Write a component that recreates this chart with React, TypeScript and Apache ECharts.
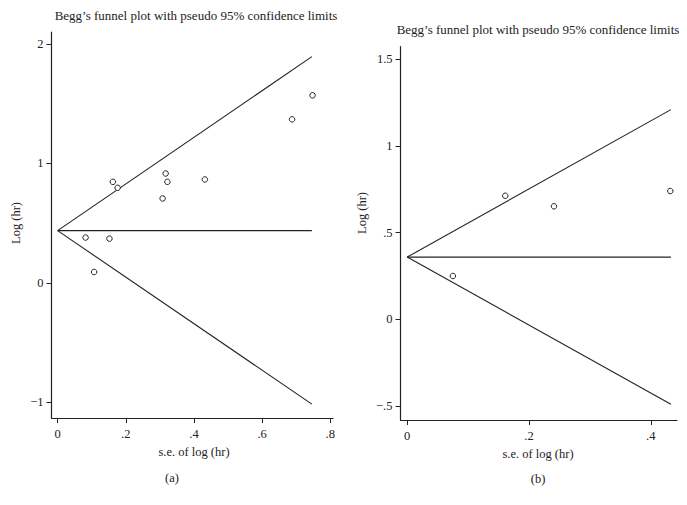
import React, { useEffect, useRef } from "react";
import * as echarts from "echarts";

// Panel (a)
const aSe = [0.082, 0.152, 0.107, 0.162, 0.176, 0.317, 0.322, 0.308, 0.432, 0.688, 0.748];
const aLogHr = [0.38, 0.371, 0.092, 0.846, 0.796, 0.916, 0.846, 0.707, 0.866, 1.369, 1.57];
const aPooled = 0.438;
const aLimitSe = 0.746;
const aUpperEnd = 1.894;
const aLowerEnd = -1.014;
const aXTicks = [0, 0.2, 0.4, 0.6, 0.8];
const aYTicks = [-1, 0, 1, 2];

// Panel (b)
const bSe = [0.075, 0.161, 0.241, 0.432];
const bLogHr = [0.25, 0.713, 0.652, 0.74];
const bPooled = 0.359;
const bLimitSe = 0.433;
const bUpperEnd = 1.21;
const bLowerEnd = -0.49;
const bXTicks = [0, 0.2, 0.4];
const bYTicks = [-0.5, 0, 0.5, 1, 1.5];

const titleText = "Begg\u2019s funnel plot with pseudo 95% confidence limits";
const xName = "s.e. of log (hr)";
const yName = "Log (hr)";

const FONT = "Liberation Serif";
const INK = "#222";

const fmt = (v: number) => {
  if (v === 0) return "0";
  const r = Math.round(v * 1000) / 1000;
  let s = String(Math.abs(r));
  if (s.startsWith("0.")) s = s.slice(1);
  return (r < 0 ? "\u2212" : "") + s;
};

function axisCommon(ticks: number[], margin: number) {
  return {
    axisLine: { show: true, onZero: false, lineStyle: { color: INK, width: 1.2 } },
    axisTick: { show: true, length: 5, customValues: ticks, lineStyle: { color: INK, width: 1 } },
    axisLabel: {
      show: true,
      customValues: ticks,
      formatter: (v: number) => fmt(v),
      color: INK,
      fontFamily: FONT,
      fontSize: 12.5,
      margin,
      showMinLabel: true,
      showMaxLabel: true,
    },
    splitLine: { show: false },
  };
}

export default function App() {
  const ref = useRef<HTMLDivElement>(null);
  useEffect(() => {
    if (!ref.current) return;
    const chart = echarts.init(ref.current, undefined, { renderer: "svg" });
    const lineStyle = { color: INK, width: 1.1 };
    const lineSeries = (idx: number, data: number[][]) => ({
      type: "line",
      xAxisIndex: idx,
      yAxisIndex: idx,
      data,
      symbol: "none",
      lineStyle,
      silent: true,
    });
    const scatter = (idx: number, xs: number[], ys: number[]) => ({
      type: "scatter",
      xAxisIndex: idx,
      yAxisIndex: idx,
      data: xs.map((x, i) => [x, ys[i]]),
      symbol: "circle",
      symbolSize: 5.5,
      itemStyle: { color: "#fff", borderColor: INK, borderWidth: 1, opacity: 1 },
      z: 5,
    });
    chart.setOption({
      animation: false,
      backgroundColor: "#fff",
      textStyle: { fontFamily: FONT },
      grid: [
        { left: 51.5, top: 32, width: 281.5, height: 386 },
        { left: 400.5, top: 46.7, width: 276.5, height: 373.3 },
      ],
      xAxis: [
        { type: "value", gridIndex: 0, min: -0.018, max: 0.808, ...axisCommon(aXTicks, 9) },
        { type: "value", gridIndex: 1, min: -0.011, max: 0.443, ...axisCommon(bXTicks, 9) },
      ],
      yAxis: [
        { type: "value", gridIndex: 0, min: -1.13, max: 2.1, ...axisCommon(aYTicks, 8) },
        { type: "value", gridIndex: 1, min: -0.581, max: 1.573, ...axisCommon(bYTicks, 8) },
      ],
      series: [
        lineSeries(0, [[0, aPooled], [aLimitSe, aPooled]]),
        lineSeries(0, [[0, aPooled], [aLimitSe, aUpperEnd]]),
        lineSeries(0, [[0, aPooled], [aLimitSe, aLowerEnd]]),
        scatter(0, aSe, aLogHr),
        lineSeries(1, [[0, bPooled], [bLimitSe, bPooled]]),
        lineSeries(1, [[0, bPooled], [bLimitSe, bUpperEnd]]),
        lineSeries(1, [[0, bPooled], [bLimitSe, bLowerEnd]]),
        scatter(1, bSe, bLogHr),
      ],
      graphic: [
        { type: "text", x: 196, y: 15, style: { text: titleText, fill: INK, font: `13px "${FONT}"`, align: "center", verticalAlign: "middle" } },
        { type: "text", x: 538, y: 29, style: { text: titleText, fill: INK, font: `13px "${FONT}"`, align: "center", verticalAlign: "middle" } },
        { type: "text", x: 16, y: 223, rotation: Math.PI / 2, style: { text: yName, fill: INK, font: `12.5px "${FONT}"`, align: "center", verticalAlign: "middle" } },
        { type: "text", x: 362, y: 213, rotation: Math.PI / 2, style: { text: yName, fill: INK, font: `12.5px "${FONT}"`, align: "center", verticalAlign: "middle" } },
        { type: "text", x: 194, y: 452, style: { text: xName, fill: INK, font: `12.5px "${FONT}"`, align: "center", verticalAlign: "middle" } },
        { type: "text", x: 538, y: 454, style: { text: xName, fill: INK, font: `12.5px "${FONT}"`, align: "center", verticalAlign: "middle" } },
        { type: "text", x: 172, y: 478, style: { text: "(a)", fill: INK, font: `12.5px "${FONT}"`, align: "center", verticalAlign: "middle" } },
        { type: "text", x: 538, y: 479, style: { text: "(b)", fill: INK, font: `12.5px "${FONT}"`, align: "center", verticalAlign: "middle" } },
      ],
    });
    return () => chart.dispose();
  }, []);
  return (
    <div
      ref={ref}
      style={{ position: "fixed", left: 0, top: 0, width: 687, height: 505, background: "#fff" }}
    />
  );
}
